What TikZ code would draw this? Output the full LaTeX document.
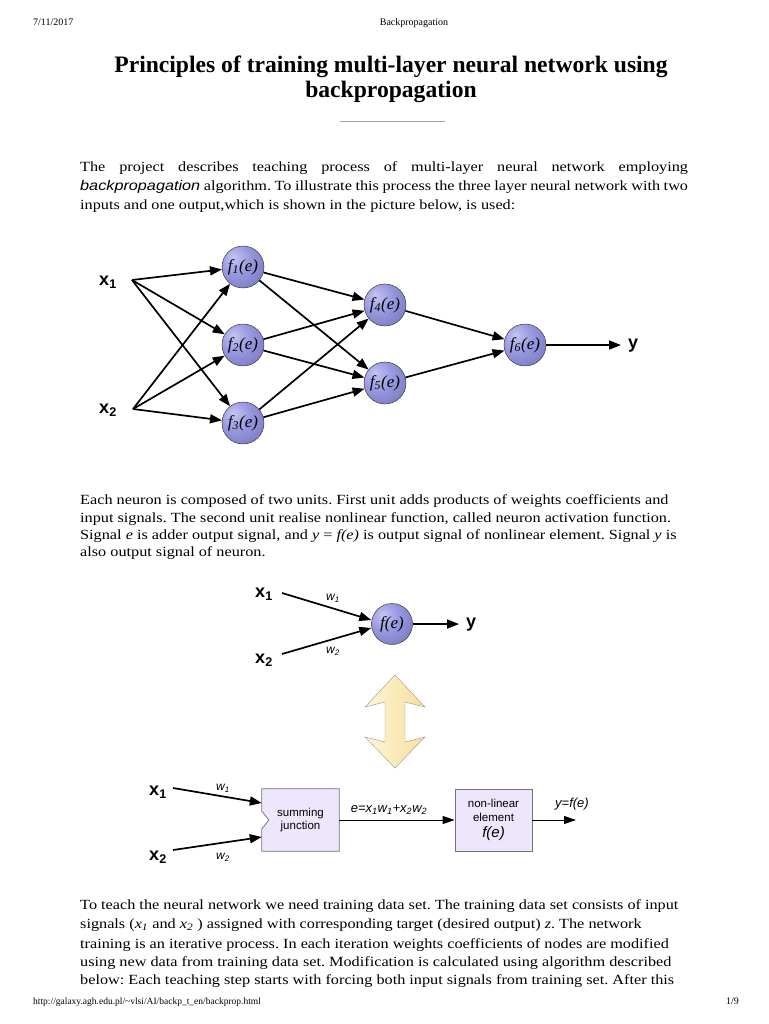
\documentclass[tikz,border=0pt]{standalone}
\usepackage{fontspec}
\usepackage{graphicx}
\setmainfont{Liberation Serif}
\newfontfamily\arial{Liberation Sans}
\usetikzlibrary{arrows.meta}
\frenchspacing
\definecolor{neuronhi}{RGB}{196,196,242}
\definecolor{neuronmid}{RGB}{152,152,222}
\definecolor{neurondark}{RGB}{96,96,170}
\definecolor{boxfill}{RGB}{238,230,252}
\definecolor{arrowlight}{RGB}{255,246,212}
\definecolor{arrowdark}{RGB}{246,222,160}
\pgfdeclareradialshading{neuronball}{\pgfpoint{-12bp}{12bp}}{color(0bp)=(neuronhi); color(18bp)=(neuronmid); color(55bp)=(neurondark); color(80bp)=(neurondark)}
\newcommand\wide[1]{\scalebox{1.16}[1]{#1}}

\begin{document}
\begin{tikzpicture}[x=1pt,y=-1pt,
    neuron/.style={circle, draw=black!85, shading=neuronball, minimum size=42pt, inner sep=0pt, font=\itshape\fontsize{17}{17}\selectfont},
    wire/.style={line width=1.7pt, -{Triangle[length=12pt,width=9pt]}},
    thinwire/.style={line width=0.9pt, -{Triangle[length=12pt,width=8pt]}},
    lbl/.style={font=\arial\bfseries\fontsize{18}{18}\selectfont},
    wlbl/.style={font=\arial\itshape\fontsize{12}{12}\selectfont},
    body/.style={anchor=base west, inner sep=0pt, font=\fontsize{14}{14}\selectfont},
    pagetext/.style={anchor=base west, inner sep=0pt, font=\fontsize{10}{10}\selectfont},
    blockbox/.style={fill=boxfill, minimum width=77pt, minimum height=62pt, inner sep=0pt, align=center, font=\arial\fontsize{11.5}{13.5}\selectfont}]
    \useasboundingbox (0,0) rectangle (768,1024);
    \fill[white] (0,0) rectangle (768,1024);

    % Page header and title
    \node[pagetext, anchor=base west] (date) at (33,26) {7/11/2017};
    \node[pagetext, anchor=base] (head) at (414,26) {Backpropagation};
    \node[anchor=base, inner sep=0pt, font=\bfseries\fontsize{23.6}{23.6}\selectfont] (title1) at (391,73) {Principles of training multi-layer neural network using};
    \node[anchor=base, inner sep=0pt, font=\bfseries\fontsize{23.6}{23.6}\selectfont] (title2) at (391,98) {backpropagation};
    \draw[gray!70, line width=0.8pt] (340,121) -- (445,121);

    % First paragraph
    \node[body] (p1a) at (80,172) {\wide{\makebox[524pt][s]{The project describes teaching process of multi-layer neural network employing}}};
    \node[body] (p1b) at (80,191) {\wide{\makebox[524pt][s]{{\arial\itshape backpropagation} algorithm. To illustrate this process the three layer neural network with two}}};
    \node[body] (p1c) at (80,210) {\wide{inputs and one output,which is shown in the picture below, is used:}};

    % Three layer network
    \node[lbl] (x1) at (108,282) {x\textsubscript{1}};
    \node[lbl] (x2) at (108,410) {x\textsubscript{2}};
    \coordinate (in1) at (132,280);
    \coordinate (in2) at (133,409);
    \node[neuron] (f1) at (243,267) {f\textsubscript{1}(e)};
    \node[neuron] (f2) at (243,345) {f\textsubscript{2}(e)};
    \node[neuron] (f3) at (243,423) {f\textsubscript{3}(e)};
    \node[neuron] (f4) at (385,305) {f\textsubscript{4}(e)};
    \node[neuron] (f5) at (385,383) {f\textsubscript{5}(e)};
    \node[neuron] (f6) at (525,345) {f\textsubscript{6}(e)};
    \coordinate (out) at (621,345);
    \node[lbl] (y) at (633,346) {y};
    \foreach \s in {in1,in2}
        \foreach \t in {f1,f2,f3}
            \draw[wire] (\s) -- (\t);
    \foreach \s in {f1,f2,f3}
        \foreach \t in {f4,f5}
            \draw[wire] (\s) -- (\t);
    \draw[wire] (f4) -- (f6);
    \draw[wire] (f5) -- (f6);
    \draw[wire] (f6) -- (out);

    % Second paragraph
    \node[body] (p2a) at (80,504) {\wide{Each neuron is composed of two units. First unit adds products of weights coefficients and}};
    \node[body] (p2b) at (80,522) {\wide{input signals. The second unit realise nonlinear function, called neuron activation function.}};
    \node[body] (p2c) at (80,539) {\wide{Signal \textit{e} is adder output signal, and \textit{y} = \textit{f(e)} is output signal of nonlinear element. Signal \textit{y} is}};
    \node[body] (p2d) at (80,556) {\wide{also output signal of neuron.}};

    % Single neuron
    \node[lbl] (sx1) at (264,594) {x\textsubscript{1}};
    \node[lbl] (sx2) at (264,660) {x\textsubscript{2}};
    \coordinate (sin1) at (282,593);
    \coordinate (sin2) at (282,654);
    \node[neuron, minimum size=41pt] (fe) at (392,624) {f(e)};
    \coordinate (sout) at (459,624);
    \node[lbl] (sy) at (471,625) {y};
    \draw[wire] (sin1) -- ([yshift=4pt]fe.west);
    \draw[wire] (sin2) -- ([yshift=-4pt]fe.west);
    \draw[wire] (fe) -- (sout);
    \node[wlbl] (sw1) at (333,598) {w\textsubscript{1}};
    \node[wlbl] (sw2) at (333,651) {w\textsubscript{2}};

    % Double arrow
    \draw[gray!80, left color=arrowlight, right color=arrowdark]
        (395,675) -- (425,707) -- (405,702) -- (405,742) -- (425,737) -- (395,768)
        -- (365,737) -- (385,742) -- (385,702) -- (365,707) -- cycle;

    % Block diagram
    \node[lbl] (bx1) at (158,792) {x\textsubscript{1}};
    \node[lbl] (bx2) at (158,857) {x\textsubscript{2}};
    \coordinate (bin1) at (173,788);
    \coordinate (bin2) at (173,850);
    \node[blockbox] (sum) at (300.5,820) {summing\\junction};
    \fill[white] ([yshift=9pt]sum.west) -- ([xshift=7pt]sum.west) -- ([yshift=-9pt]sum.west) -- cycle;
    \draw[gray!90!black, line width=0.8pt] (sum.north west) -- (sum.north east) -- (sum.south east) -- (sum.south west)
        -- ([yshift=-9pt]sum.west) -- ([xshift=7pt]sum.west) -- ([yshift=9pt]sum.west) -- cycle;
    \node[blockbox, draw=gray!90!black, line width=0.8pt] (nl) at (493.5,820) {non-linear\\element\\[3pt]{\itshape\fontsize{15}{15}\selectfont f(e)}};
    \coordinate (bout) at (576,820);
    \draw[wire] (bin1) -- ([yshift=17pt]sum.west);
    \draw[wire] (bin2) -- ([yshift=-17pt]sum.west);
    \draw[thinwire] (sum) -- (nl);
    \draw[thinwire] (nl) -- (bout);
    \node[wlbl] (bw1) at (223,788) {w\textsubscript{1}};
    \node[wlbl] (bw2) at (223,857) {w\textsubscript{2}};
    \node[font=\arial\itshape\fontsize{13}{13}\selectfont] (elbl) at (389,810) {e=x\textsubscript{1}w\textsubscript{1}+x\textsubscript{2}w\textsubscript{2}};
    \node[font=\arial\itshape\fontsize{13}{13}\selectfont] (ylbl) at (572,804) {y=f(e)};

    % Third paragraph
    \node[body] (p3a) at (80,909) {\wide{To teach the neural network we need training data set. The training data set consists of input}};
    \node[body] (p3b) at (80,928) {\wide{signals (\textit{x\textsubscript{1}} and \textit{x\textsubscript{2}} ) assigned with corresponding target (desired output) \textit{z}. The network}};
    \node[body] (p3c) at (80,948) {\wide{training is an iterative process. In each iteration weights coefficients of nodes are modified}};
    \node[body] (p3d) at (80,966) {\wide{using new data from training data set. Modification is calculated using algorithm described}};
    \node[body] (p3e) at (80,984) {\wide{below: Each teaching step starts with forcing both input signals from training set. After this}};

    % Page footer
    \node[pagetext, font=\fontsize{9.5}{9.5}\selectfont] (url) at (33,1004) {http://galaxy.agh.edu.pl/\textasciitilde vlsi/AI/backp\_t\_en/backprop.html};
    \node[pagetext] (page) at (726,1004) {1/9};
\end{tikzpicture}
\end{document}
